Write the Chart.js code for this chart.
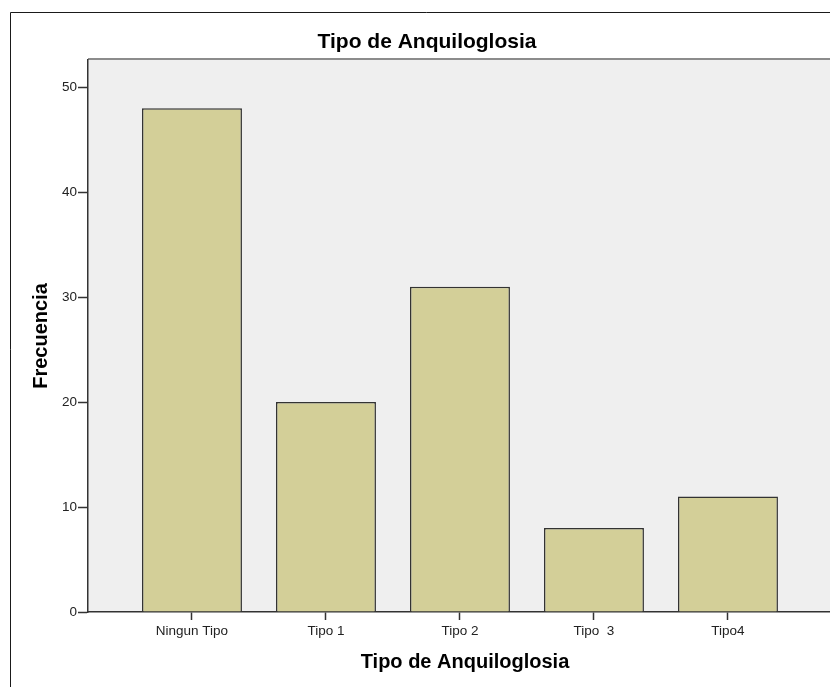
<!DOCTYPE html>
<html>
<head>
<meta charset="utf-8">
<script src="https://cdn.jsdelivr.net/npm/chart.js@4/dist/chart.umd.min.js"></script>
<style>
  html, body { margin:0; padding:0; background:#fff; overflow:hidden; }
  #wrap { width:842px; height:687px; position:relative; }
</style>
</head>
<body>
<div id="wrap"><canvas id="chart"></canvas></div>
<script>
  // data
  const categories = ['Ningun Tipo', 'Tipo 1', 'Tipo 2', 'Tipo  3', 'Tipo4'];
  const frecuencia = [48, 20, 31, 8, 11];
  const yTicks = [0, 10, 20, 30, 40, 50];
  const chartTitle = 'Tipo de Anquiloglosia';
  const xTitle = 'Tipo de Anquiloglosia';
  const yTitle = 'Frecuencia';

  const FONT = "'Liberation Sans', Arial, sans-serif";

  // plot panel background + outer frame
  const panel = {
    id: 'panel',
    beforeDraw(chart){
      const c = chart.ctx, a = chart.chartArea;
      c.save();
      c.strokeStyle = '#1a1a1a'; c.lineWidth = 1;
      c.beginPath(); c.moveTo(10.5, chart.height); c.lineTo(10.5, 12.5); c.lineTo(chart.width, 12.5); c.stroke();
      c.fillStyle = '#efefef';
      c.fillRect(a.left, a.top, a.right - a.left, a.bottom - a.top);
      c.fillStyle = '#8c8c8c';
      c.fillRect(a.left, a.top - 2, a.right - a.left, 2);
      c.restore();
    }
  };

  new Chart(document.getElementById('chart'), {
    type: 'bar',
    data: {
      datasets: [{
        label: yTitle,
        data: categories.map((c, i) => ({ x: i, y: frecuencia[i] })),
        backgroundColor: '#d3cf98',
        borderColor: '#333',
        borderWidth: 1.5,
        categoryPercentage: 1,
        barPercentage: 0.746
      }]
    },
    options: {
      responsive: true,
      maintainAspectRatio: false,
      animation: false,
      layout: { padding: { left: 12, right: 0, top: 0, bottom: 0 } },
      plugins: {
        legend: { display: false },
        tooltip: { enabled: false },
        title: { display: true, text: chartTitle, color: '#000', font: { family: FONT, size: 21, weight: 'bold' }, padding: { top: 29.4, bottom: 5.4 } }
      },
      scales: {
        x: {
          type: 'linear', min: -0.776, max: 4.851, z: 1, offset: false,
          afterFit: s => { s.height = 75; },
          afterBuildTicks: s => { s.ticks = categories.map((c, i) => ({ value: i })); },
          grid: { offset: false, drawOnChartArea: false, drawTicks: true, tickLength: 8, tickWidth: 1.5, tickColor: '#333' },
          border: { color: '#333', width: 1.5 },
          ticks: { color: '#222', font: { family: FONT, size: 13.5 }, padding: 3, autoSkip: false, maxRotation: 0, callback: v => categories[v] },
          title: { display: true, text: xTitle, color: '#000', font: { family: FONT, size: 20, weight: 'bold' }, padding: { top: 0, bottom: 13 } }
        },
        y: {
          min: 0, max: 52.6, z: 1,
          afterFit: s => { s.width = 76; },
          afterBuildTicks: s => { s.ticks = yTicks.map(v => ({ value: v })); },
          grid: { drawOnChartArea: false, drawTicks: true, tickLength: 10, tickWidth: 1.5, tickColor: '#333' },
          border: { color: '#333', width: 1.5 },
          ticks: { color: '#222', font: { family: FONT, size: 13.5 }, padding: 1 },
          title: { display: true, text: yTitle, color: '#000', font: { family: FONT, size: 20, weight: 'bold' }, padding: { top: 17, bottom: 0 } }
        }
      }
    },
    plugins: [panel]
  });
</script>
</body>
</html>
